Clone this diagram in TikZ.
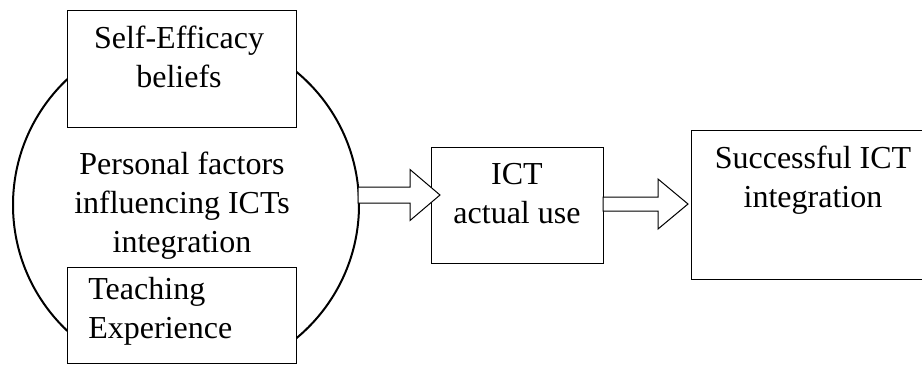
\documentclass[tikz,border=0pt]{standalone}
\usepackage{fontspec}
\setmainfont{Liberation Serif}
\usetikzlibrary{calc,positioning}

\tikzset{
  box/.style={draw, fill=white, line width=0.5pt, inner sep=0pt},
  txt/.style={align=center, inner sep=0pt, anchor=base},
  hollow/.style={draw, fill=white, line width=0.5pt, line join=miter},
}

% block arrow: start, tip, shaft half height, head half height
\newcommand{\blockarrow}[4]{%
  \draw[hollow] ($(#1)+(0,#3)$) -- ($(#2)+(-30,#3)$) -- ($(#2)+(-30,#4)$) -- (#2)
    -- ($(#2)+(-30,-#4)$) -- ($(#2)+(-30,-#3)$) -- ($(#1)+(0,-#3)$) -- cycle;}

\begin{document}
\begin{tikzpicture}[x=0.5pt, y=-0.5pt, font=\fontsize{16}{19.5}\selectfont]
\useasboundingbox (0,0) rectangle (922,388);
\clip (0,0) rectangle (922,388);

% personal factors
\begin{scope}
\clip (0,10) rectangle (922,363);
\node[circle, draw, line width=1pt, minimum size=173pt, inner sep=0pt] (pf) at (186,205) {};
\end{scope}
\node[txt] (pftxt) at (182,252) {Personal factors\\influencing ICTs\\integration};

% the two factors
\node[box, minimum width=114.5pt, minimum height=58.5pt] (se) at (181.5,68.5) {};
\node[txt] (setxt) at (179,87) {Self-Efficacy\\beliefs};

\node[box, minimum width=114.5pt, minimum height=48pt] (te) at (181.5,315) {};
\node[txt, align=left, anchor=base west] (tetxt) at (88,338) {Teaching\\Experience};

% use and outcome
\node[box, minimum width=86pt, minimum height=58pt] (ict) at (517,205) {};
\node[txt] (icttxt) at (517,223) {ICT\\actual use};

\node[box, minimum width=122pt, minimum height=74.5pt] (sc) at (813,204.5) {};
\node[txt] (sctxt) at (813,207) {Successful ICT\\integration};

% arrows
\coordinate (a1s) at (358,195);
\coordinate (a1t) at (440,195);
\coordinate (a2s) at (603,204);
\coordinate (a2t) at (688,204);
\blockarrow{a1s}{a1t}{8}{25.5}
\blockarrow{a2s}{a2t}{7}{25}

\end{tikzpicture}
\end{document}
